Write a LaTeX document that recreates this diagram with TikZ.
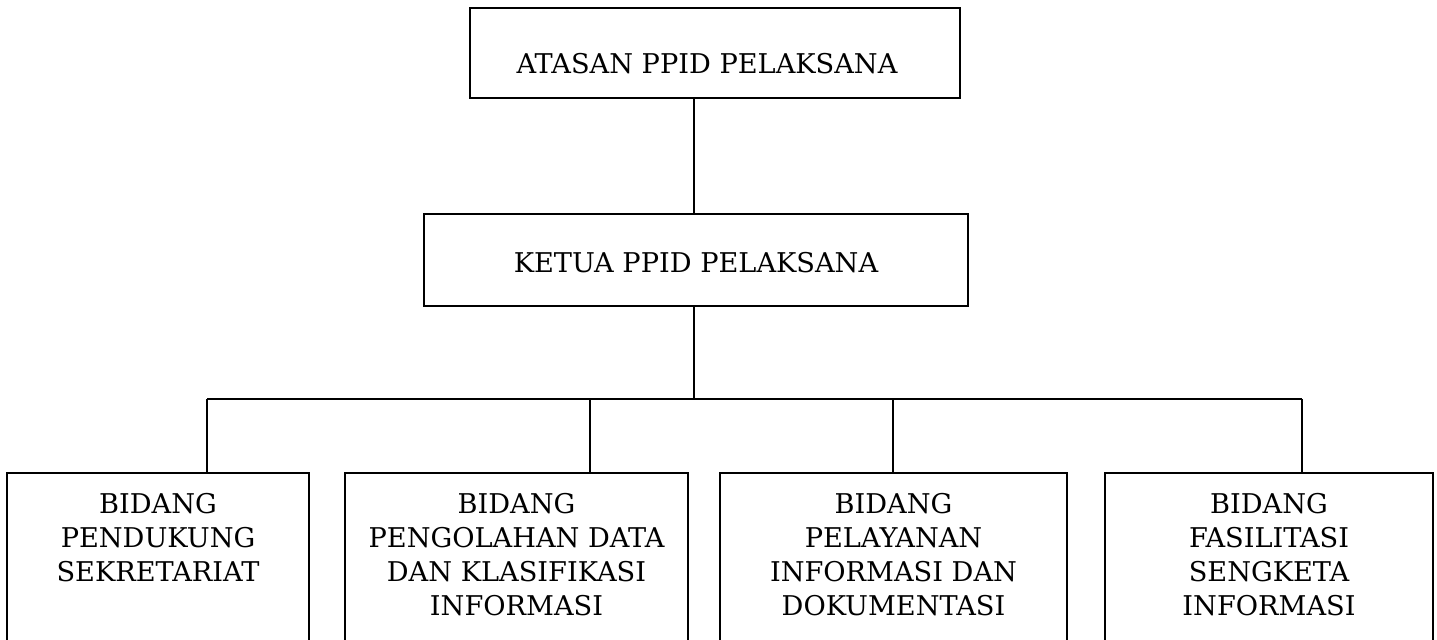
\documentclass[tikz,border=0pt]{standalone}
\usepackage{fontspec}
\setmainfont{DejaVu Serif}
\begin{document}
\begin{tikzpicture}[line width=0.9pt,
                    box/.style={
                        draw,
                        fill=white,
                        inner sep=0pt
                    },
                    unitbox/.style={
                        box,
                        minimum height=89pt,
                        anchor=north
                    },
                    caption/.style={
                        font=\fontsize{13.6}{17}\selectfont,
                        align=center,
                        inner sep=0pt,
                        anchor=north
                    }
                ]
                \useasboundingbox (0,0) rectangle (718.5pt,-320pt);

                % Atasan (top box)
                \node[box,
                    minimum width=245pt,
                    minimum height=45pt
                ] (atasan) at (357.5pt,-26.5pt) {};
                \node[caption] (atasantext)
                    at ([xshift=-4pt, yshift=-22.5pt] atasan.north)
                    {ATASAN PPID PELAKSANA};

                % Ketua (middle box)
                \node[box,
                    minimum width=272pt,
                    minimum height=46pt
                ] (ketua) at (348pt,-130pt) {};
                \node[caption] (ketuatext)
                    at ([yshift=-19pt] ketua.north)
                    {KETUA PPID PELAKSANA};

                % Trunk and bar
                \coordinate (trunk) at (347pt,-199.5pt);
                \coordinate (barleft) at (103.5pt,-199.5pt);
                \coordinate (barright) at (651pt,-199.5pt);
                \coordinate (drop2) at (295pt,-199.5pt);
                \coordinate (drop3) at (446.5pt,-199.5pt);

                % Bidang boxes (bottom row)
                \node[unitbox, minimum width=151pt] (sekretariat) at (79pt,-236pt) {};
                \node[caption] (sekretariattext)
                    at ([yshift=-10pt] sekretariat.north)
                    {BIDANG\\PENDUKUNG\\SEKRETARIAT};

                \node[unitbox, minimum width=171.5pt] (olahdata) at (258.25pt,-236pt) {};
                \node[caption] (olahdatatext)
                    at ([yshift=-10pt] olahdata.north)
                    {BIDANG\\PENGOLAHAN DATA\\DAN KLASIFIKASI\\INFORMASI};

                \node[unitbox, minimum width=173.5pt] (layanan) at (446.75pt,-236pt) {};
                \node[caption] (layanantext)
                    at ([yshift=-10pt] layanan.north)
                    {BIDANG\\PELAYANAN\\INFORMASI DAN\\DOKUMENTASI};

                \node[unitbox, minimum width=164pt] (sengketa) at (634.5pt,-236pt) {};
                \node[caption] (sengketatext)
                    at ([yshift=-10pt] sengketa.north)
                    {BIDANG\\FASILITASI\\SENGKETA\\INFORMASI};

                % Connectors
                \draw (atasan.south -| trunk) -- (ketua.north -| trunk);
                \draw (ketua.south -| trunk) -- (trunk);
                \draw (barleft) -- (barright);
                \draw (barleft) -- (barleft |- sekretariat.north);
                \draw (drop2) -- (drop2 |- olahdata.north);
                \draw (drop3) -- (drop3 |- layanan.north);
                \draw (barright) -- (barright |- sengketa.north);
\end{tikzpicture}
\end{document}
